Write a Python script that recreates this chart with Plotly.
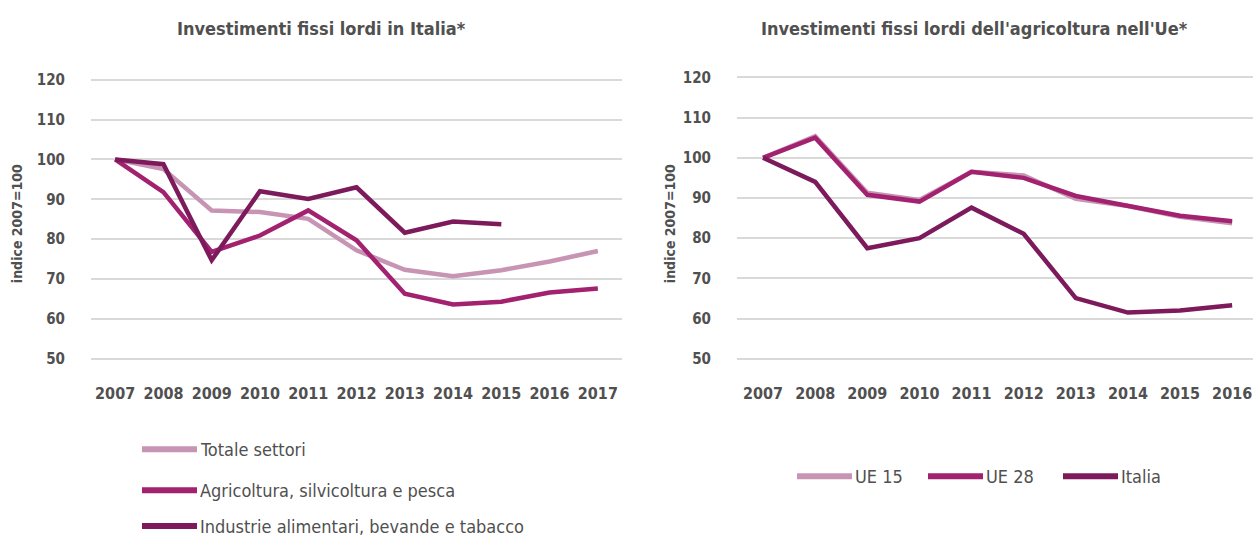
import plotly.graph_objects as go

# ---- data -------------------------------------------------------------
years_it = ["2007", "2008", "2009", "2010", "2011", "2012", "2013",
            "2014", "2015", "2016", "2017"]
totale_settori = [100, 97.6, 87.2, 86.8, 85.1, 77.2, 72.3, 70.7, 72.2, 74.4, 77.0]
agricoltura = [100, 91.8, 76.8, 80.9, 87.2, 79.7, 66.3, 63.6, 64.3, 66.6, 67.6]
industrie_alimentari = [100, 98.8, 74.7, 92.0, 90.1, 93.0, 81.6, 84.4, 83.7]

years_ue = ["2007", "2008", "2009", "2010", "2011", "2012", "2013",
            "2014", "2015", "2016"]
ue15 = [100, 105.4, 91.3, 89.5, 96.5, 95.6, 89.8, 88.0, 85.3, 83.7]
ue28 = [100, 105.0, 90.8, 89.1, 96.5, 95.0, 90.5, 88.1, 85.6, 84.2]
italia = [100, 94.0, 77.5, 80.0, 87.6, 81.1, 65.1, 61.5, 62.0, 63.3]

y_ticks = [50, 60, 70, 80, 90, 100, 110, 120]

names_left = ["Totale settori", "Agricoltura, silvicoltura e pesca",
              "Industrie alimentari, bevande e tabacco"]
names_right = ["UE 15", "UE 28", "Italia"]
title_left = "Investimenti fissi lordi in Italia*"
title_right = "Investimenti fissi lordi dell'agricoltura nell'Ue*"
y_title = "indice 2007=100"

# ---- style -------------------------------------------------------------
W, H = 1253, 539
FONT = "DejaVu Sans Condensed, Liberation Sans Narrow, sans-serif"
TXT = "#505050"
GRID = "#d9d9d9"
C_LIGHT = "#c794b4"
C_MID = "#a2226f"
C_DARK = "#7c1a5b"
LW = 4.5


def px_x(x):
    return x / W


def px_y(y):
    return 1 - y / H


fig = go.Figure()

left_series = [(totale_settori, C_LIGHT), (agricoltura, C_MID),
               (industrie_alimentari, C_DARK)]
for (vals, col), name in zip(left_series, names_left):
    fig.add_trace(go.Scatter(
        x=years_it[:len(vals)], y=vals, name=name, mode="lines",
        line=dict(color=col, width=LW), xaxis="x", yaxis="y",
        showlegend=False))

right_series = [(ue15, C_LIGHT), (ue28, C_MID), (italia, C_DARK)]
for (vals, col), name in zip(right_series, names_right):
    fig.add_trace(go.Scatter(
        x=years_ue[:len(vals)], y=vals, name=name, mode="lines",
        line=dict(color=col, width=LW), xaxis="x2", yaxis="y2",
        showlegend=False))

yax_common = dict(
    range=[48, 122], tickvals=y_ticks, showgrid=True, gridcolor=GRID,
    gridwidth=1.5, zeroline=False, showline=False, ticks="",
    tickfont=dict(family=FONT, size=15, color=TXT, weight="bold"),
    ticklabelstandoff=25, fixedrange=True)
xax_common = dict(
    type="category", showgrid=False, zeroline=False, showline=False,
    ticks="", tickfont=dict(family=FONT, size=16, color=TXT, weight="bold"),
    ticklabelstandoff=15, fixedrange=True)

fig.update_layout(
    width=W, height=H,
    margin=dict(l=0, r=0, t=0, b=0),
    paper_bgcolor="white", plot_bgcolor="white",
    font=dict(family=FONT, color=TXT),
    xaxis=dict(domain=[px_x(91), px_x(622)], range=[-0.5, 10.5],
               anchor="y", **xax_common),
    yaxis=dict(domain=[px_y(367), px_y(71)], anchor="x", **yax_common),
    xaxis2=dict(domain=[px_x(737), 1.0], range=[-0.5, 9.4],
                anchor="y2", **xax_common),
    yaxis2=dict(domain=[px_y(367.2), px_y(68.6)], anchor="x2", **yax_common),
)

# titles
for txt, cx in [(title_left, 321), (title_right, 974)]:
    fig.add_annotation(text="<b>" + txt + "</b>", x=px_x(cx), y=px_y(28),
                       xref="paper", yref="paper", showarrow=False,
                       xanchor="center", yanchor="middle",
                       font=dict(family=FONT, size=18, color=TXT))

# rotated axis titles
for cx in (17, 670):
    fig.add_annotation(text="<b>" + y_title + "</b>", x=px_x(cx),
                       y=px_y(224), xref="paper", yref="paper",
                       showarrow=False, textangle=-90, xanchor="center",
                       yanchor="middle",
                       font=dict(family=FONT, size=14, color=TXT))

# legends: a short line sample followed by its label
def legend_item(x0, x1, y, color, label):
    fig.add_shape(type="line", xref="paper", yref="paper",
                  x0=px_x(x0), x1=px_x(x1), y0=px_y(y), y1=px_y(y),
                  line=dict(color=color, width=6))
    fig.add_annotation(text=label, x=px_x(x1 + 1), y=px_y(y),
                       xref="paper", yref="paper", showarrow=False,
                       xanchor="left", yanchor="middle",
                       font=dict(family=FONT, size=18, color=TXT))


for (vals, col), name, yy in zip(left_series, names_left, (450, 491, 527)):
    legend_item(142, 197, yy, col, name)

for (vals, col), name, x0 in zip(right_series, names_right, (797, 928, 1063)):
    legend_item(x0, x0 + 55, 477, col, name)

fig.write_html("out.html")
